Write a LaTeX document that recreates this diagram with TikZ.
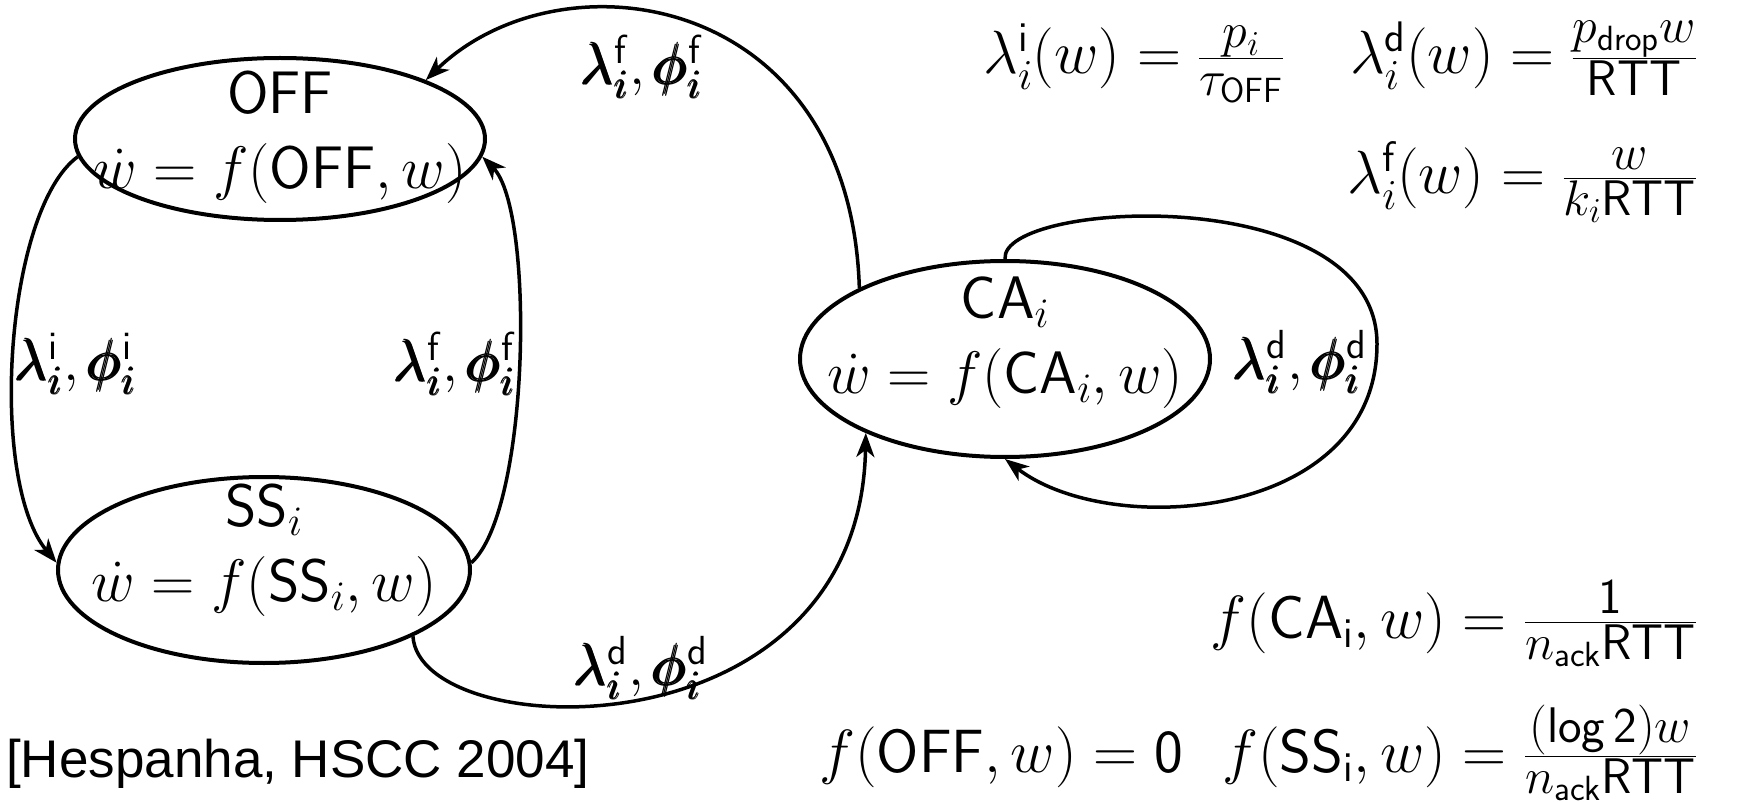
\RequirePackage{fix-cm}
\documentclass[tikz,border=0pt]{standalone}
\usepackage{amsmath}
\usepackage{fontspec}
\newfontfamily\citefont{Liberation Sans}
\usetikzlibrary{arrows.meta,shapes.geometric,calc}
\newcommand\edgelab[1]{$\pmb{\lambda}_{\pmb{i}}^{\mathsf{#1}},\pmb{\phi}_{\pmb{i}}^{\mathsf{#1}}$}
\newcommand\bigfrac[2]{\frac{\hbox{\fontsize{50}{50}\selectfont$#1$}}{\hbox{\fontsize{50}{50}\selectfont$#2$}}}
\begin{document}
\begin{tikzpicture}[x=1pt,y=1pt,
  every node/.style={font=\fontsize{60}{75}\selectfont, inner sep=0pt},
  state/.style={draw, ellipse, line width=4pt, inner sep=0pt},
  statetext/.style={align=center},
  edgetext/.style={font=\fontsize{58}{70}\selectfont},
  eqtext/.style={font=\fontsize{61}{70}\selectfont},
  conn/.style={line width=3.5pt, -{Stealth[length=24pt,width=18pt,inset=7pt]}},
]
\useasboundingbox (0,0) rectangle (1741,-802);

% states
\node[state, minimum width=410pt, minimum height=162pt] (OFF) at (280,-139) {};
\node[statetext] (OFFt) at ($(OFF.center)+(0,2)$) {\textsf{OFF}\\$\dot w = f(\textsf{OFF},w)$};
\node[state, minimum width=412pt, minimum height=186pt] (SS) at (264,-570) {};
\node[statetext] (SSt) at ($(SS.center)+(0,20)$) {\textsf{SS}$_i$\\$\dot w = f(\textsf{SS}_i,w)$};
\node[state, minimum width=410pt, minimum height=196pt] (CA) at (1005,-359) {};
\node[statetext] (CAt) at ($(CA.center)+(0,16)$) {\textsf{CA}$_i$\\$\dot w = f(\textsf{CA}_i,w)$};

% edge labels
\node[edgetext] (l1) at (76,-364) {\edgelab{i}};
\node[edgetext] (l2) at (455,-364) {\edgelab{f}};
\node[edgetext] (l3) at (642,-67) {\edgelab{f}};
\node[edgetext] (l4) at (641,-668) {\edgelab{d}};
\node[edgetext] (l5) at (1300,-362) {\edgelab{d}};

% connectors
\draw[conn] (OFF.185) .. controls (5,-210) and (-12,-480) .. (SS.178);
\draw[conn] (SS.2) .. controls (530,-510) and (535,-210) .. (OFF.-5);
\draw[conn] (CA.154) .. controls (850,10) and (560,50) .. (OFF.22);
\draw[conn] (SS.-24) .. controls (420,-745) and (860,-760) .. (CA.208);
\coordinate (loopR) at (1377,-344);
\draw[conn] (CA.90) .. controls (1000,-200) and (1377,-180) .. (loopR)
  .. controls (1377,-520) and (1110,-540) .. (CA.-90);

% formulas
\node[eqtext, anchor=base west] (li) at (983,-74) {$\lambda_i^{\mathsf{i}}(w)=\bigfrac{p_i}{\tau_{\mathsf{OFF}}}$};
\node[eqtext, anchor=base east] (ld) at (1697,-74) {$\lambda_i^{\mathsf{d}}(w)=\bigfrac{p_{\mathsf{drop}}w}{\mathsf{RTT}}$};
\node[eqtext, anchor=base east] (lf) at (1697,-194) {$\lambda_i^{\mathsf{f}}(w)=\bigfrac{w}{k_i\mathsf{RTT}}$};
\node[eqtext, anchor=base east] (fca) at (1697,-638) {$f(\mathsf{CA}_{\mathsf{i}},w)=\bigfrac{\mathsf{1}}{n_{\mathsf{ack}}\mathsf{RTT}}$};
\node[eqtext, anchor=base west] (foff) at (819,-772) {$f(\mathsf{OFF},w)=\mathsf{0}$};
\node[eqtext, anchor=base east] (fss) at (1697,-772) {$f(\mathsf{SS}_{\mathsf{i}},w)=\bigfrac{(\mathsf{log}\,\mathsf{2})w}{n_{\mathsf{ack}}\mathsf{RTT}}$};
\node[anchor=base west, font=\citefont\fontsize{53}{60}\selectfont] (cite) at (6,-777) {[Hespanha, HSCC 2004]};
\end{tikzpicture}
\end{document}
